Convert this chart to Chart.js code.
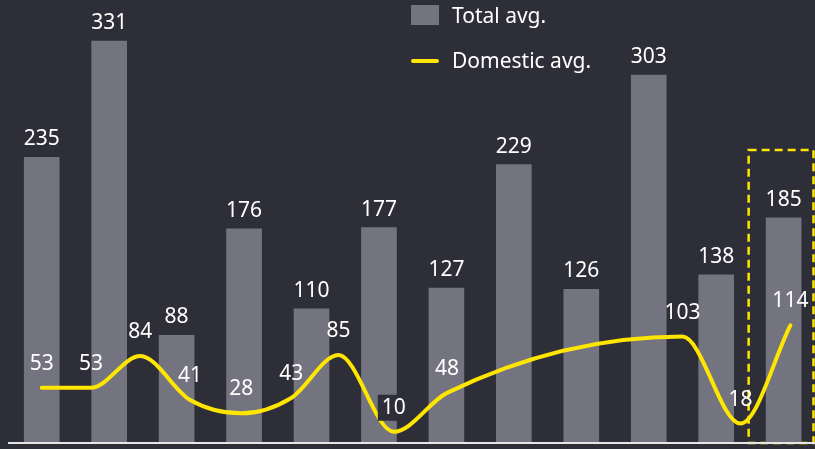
<!DOCTYPE html>
<html>
<head>
<meta charset="utf-8">
<script src="https://cdn.jsdelivr.net/npm/chart.js@4"></script>
<style>
  html,body{margin:0;padding:0;background:#2e2e38;}
  #wrap{position:relative;width:815px;height:449px;}
  .lg{position:absolute;left:411px;font:21px "Noto Sans",sans-serif;color:#fff;}
  .lg span{position:absolute;left:41px;white-space:nowrap;top:-15px;}
  .sw{position:absolute;left:0;}
</style>
</head>
<body>
<div id="wrap">
  <canvas id="c" width="815" height="449"></canvas>
  <div class="lg" style="top:16px"><div class="sw" style="top:-11px;width:28px;height:20px;background:#747480"></div><span>Total avg.</span></div>
  <div class="lg" style="top:61px"><div class="sw" style="top:-2px;width:28px;height:4px;background:#ffe600;border-radius:2px"></div><span>Domestic avg.</span></div>
</div>
<script>
  // values
  const totalAvg = [235, 331, 88, 176, 110, 177, 127, 229, 126, 303, 138, 185];
  const domesticAvg = [53, 53, 84, 41, 28, 43, 85, 10, 48, 103, 18, 114];
  // where the domestic points sit, in bar units (0 = first bar)
  const domesticPos = [0, 0.73, 1.46, 2.2, 2.96, 3.7, 4.4, 5.22, 6.01, 9.5, 10.36, 11.1];

  const GREY = '#747480', YEL = '#ffe600', BG = '#2e2e38';
  const font = '21px "Noto Sans", sans-serif';

  const labelsPlugin = {
    id: 'labels',
    beforeDatasetsDraw(chart){
      const {ctx, chartArea:a, scales} = chart;
      // dashed highlight round the last bar
      const x0 = scales.x.getPixelForValue(totalAvg.length-1) - 35;
      const y0 = scales.y.getPixelForValue(241);
      ctx.save();
      ctx.strokeStyle = YEL; ctx.lineWidth = 2.5; ctx.setLineDash([8,5]);
      ctx.strokeRect(x0, y0, a.right - 1.5 - x0, a.bottom + 1 - y0);
      ctx.restore();
    },
    afterDatasetsDraw(chart){
      const {ctx, chartArea:a} = chart;
      ctx.save();
      ctx.font = font; ctx.fillStyle = '#fff';
      ctx.textAlign = 'center'; ctx.textBaseline = 'middle';
      chart.getDatasetMeta(1).data.forEach((b,i)=>{
        ctx.fillText(totalAvg[i], b.x, b.y - 18);
      });
      chart.getDatasetMeta(0).data.forEach((p,i)=>{
        const ty = p.y - 24;
        if (domesticAvg[i] === 10) {
          const w = ctx.measureText('10').width + 8;
          ctx.fillStyle = BG; ctx.fillRect(p.x - w/2, ty - 13, w, 26);
        }
        ctx.fillStyle = '#fff';
        ctx.fillText(domesticAvg[i], p.x, ty);
      });
      // baseline
      ctx.strokeStyle = '#e6e6e6'; ctx.lineWidth = 2;
      ctx.beginPath(); ctx.moveTo(a.left, a.bottom + 1); ctx.lineTo(a.right, a.bottom + 1); ctx.stroke();
      ctx.restore();
    }
  };

  new Chart(document.getElementById('c'), {
    data: {
      datasets: [
        {
          type: 'line',
          data: domesticAvg.map((v,i)=>({x: domesticPos[i], y: v})),
          yAxisID: 'y2',
          borderColor: YEL, borderWidth: 4,
          pointRadius: 0, cubicInterpolationMode: 'monotone',
          borderCapStyle: 'round'
        },
        {
          type: 'bar',
          data: totalAvg.map((v,i)=>({x: i, y: v})),
          yAxisID: 'y',
          backgroundColor: GREY,
          barThickness: 35
        }
      ]
    },
    options: {
      responsive: false,
      animation: false,
      layout: {padding: {left: 8, top: 0, right: 0, bottom: 7}},
      plugins: {legend: {display: false}, tooltip: {enabled: false}},
      scales: {
        x: {type: 'linear', min: -0.5, max: 11.465, offset: false, display: false},
        y: {min: 0, max: 364.9, display: false},
        y2: {min: 0, max: 432, display: false}
      }
    },
    plugins: [labelsPlugin]
  });
</script>
</body>
</html>
